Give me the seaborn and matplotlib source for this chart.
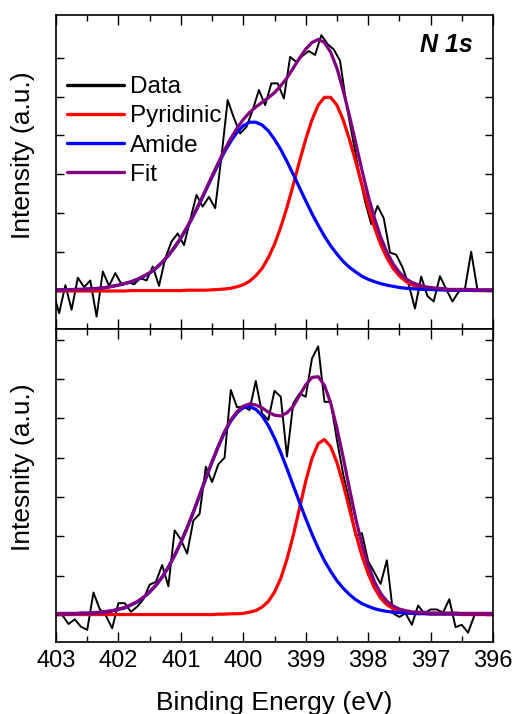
import matplotlib
matplotlib.use("Agg")
import matplotlib.pyplot as plt
from matplotlib.lines import Line2D
from matplotlib.ticker import MultipleLocator, FixedLocator
import pandas as pd
import seaborn as sns

# ---------------- data ----------------
curve_energy = [403.0, 402.9, 402.8, 402.7, 402.6, 402.5, 402.4, 402.3, 402.2, 402.1,
                402.0, 401.9, 401.8, 401.7, 401.6, 401.5, 401.4, 401.3, 401.2, 401.1,
                401.0, 400.9, 400.8, 400.7, 400.6, 400.5, 400.4, 400.3, 400.2, 400.1,
                400.0, 399.9, 399.8, 399.7, 399.6, 399.5, 399.4, 399.3, 399.2, 399.1,
                399.0, 398.9, 398.8, 398.7, 398.6, 398.5, 398.4, 398.3, 398.2, 398.1,
                398.0, 397.9, 397.8, 397.7, 397.6, 397.5, 397.4, 397.3, 397.2, 397.1,
                397.0, 396.9, 396.8, 396.7, 396.6, 396.5, 396.4, 396.3, 396.2, 396.1,
                396.0]

# top panel (N 1s)
top_data_energy = [403.05, 402.95, 402.85, 402.75, 402.65, 402.55, 402.45, 402.35, 402.25, 402.15,
                   402.05, 401.95, 401.85, 401.75, 401.65, 401.55, 401.45, 401.35, 401.25, 401.15,
                   401.05, 400.95, 400.85, 400.75, 400.65, 400.55, 400.45, 400.35, 400.25, 400.15,
                   400.05, 399.95, 399.85, 399.75, 399.65, 399.55, 399.45, 399.35, 399.25, 399.15,
                   399.05, 398.95, 398.85, 398.75, 398.65, 398.55, 398.45, 398.35, 398.25, 398.15,
                   398.05, 397.95, 397.85, 397.75, 397.65, 397.55, 397.45, 397.35, 397.25, 397.15,
                   397.05, 396.95, 396.85, 396.75, 396.65, 396.55, 396.45, 396.35, 396.25]
top_data = [0.00, -0.57, 0.15, -0.48, 0.34, 0.10, 0.27, -0.66, 0.50, 0.13,
            0.46, 0.17, 0.23, 0.17, 0.33, 0.27, 0.63, 0.13, 0.84, 1.27,
            1.48, 1.18, 1.83, 2.47, 2.17, 2.42, 2.13, 3.45, 4.91, 4.45,
            4.05, 4.22, 4.65, 5.17, 4.78, 5.34, 5.34, 4.95, 6.02, 5.89,
            6.05, 6.17, 6.07, 6.58, 6.35, 6.21, 5.92, 4.82, 3.95, 3.08,
            2.30, 1.72, 2.19, 1.87, 0.99, 0.93, 0.61, 0.16, -0.45, 0.37,
            -0.13, -0.27, 0.38, 0.05, -0.27, -0.02, 0.05, 1.01, 0.04]
top_pyridinic = [0.00, 0.00, 0.00, 0.00, 0.00, 0.00, 0.00, 0.00, 0.00, 0.00,
                 0.00, 0.00, 0.01, 0.01, 0.01, 0.01, 0.01, 0.01, 0.01, 0.01,
                 0.01, 0.02, 0.02, 0.02, 0.02, 0.03, 0.04, 0.05, 0.07, 0.11,
                 0.16, 0.25, 0.39, 0.58, 0.85, 1.20, 1.64, 2.15, 2.73, 3.33,
                 3.90, 4.40, 4.78, 4.98, 4.98, 4.78, 4.40, 3.90, 3.33, 2.73,
                 2.15, 1.64, 1.20, 0.85, 0.58, 0.39, 0.25, 0.16, 0.11, 0.07,
                 0.05, 0.04, 0.03, 0.02, 0.02, 0.02, 0.02, 0.01, 0.01, 0.01,
                 0.01]
top_amide = [0.03, 0.03, 0.03, 0.04, 0.04, 0.05, 0.06, 0.07, 0.09, 0.12,
             0.15, 0.19, 0.23, 0.29, 0.37, 0.46, 0.58, 0.73, 0.91, 1.12,
             1.36, 1.63, 1.93, 2.25, 2.59, 2.93, 3.26, 3.58, 3.85, 4.08,
             4.25, 4.34, 4.34, 4.27, 4.12, 3.90, 3.64, 3.33, 3.00, 2.66,
             2.32, 1.99, 1.69, 1.41, 1.16, 0.95, 0.76, 0.61, 0.49, 0.38,
             0.30, 0.24, 0.19, 0.15, 0.12, 0.09, 0.07, 0.06, 0.05, 0.04,
             0.04, 0.03, 0.03, 0.02, 0.02, 0.02, 0.02, 0.02, 0.02, 0.02,
             0.02]
top_fit = [0.03, 0.03, 0.03, 0.04, 0.04, 0.05, 0.06, 0.07, 0.09, 0.12,
           0.15, 0.19, 0.24, 0.30, 0.38, 0.47, 0.59, 0.74, 0.92, 1.13,
           1.37, 1.65, 1.95, 2.27, 2.61, 2.96, 3.30, 3.63, 3.92, 4.19,
           4.41, 4.59, 4.73, 4.85, 4.97, 5.10, 5.28, 5.48, 5.73, 5.99,
           6.22, 6.39, 6.47, 6.39, 6.14, 5.73, 5.16, 4.51, 3.82, 3.11,
           2.45, 1.88, 1.39, 1.00, 0.70, 0.48, 0.32, 0.22, 0.16, 0.11,
           0.09, 0.07, 0.06, 0.04, 0.04, 0.04, 0.04, 0.03, 0.03, 0.03,
           0.03]

# bottom panel
bot_data_energy = [402.9, 402.8, 402.7, 402.6, 402.5, 402.4, 402.3, 402.2, 402.1, 402.0,
                   401.9, 401.8, 401.7, 401.6, 401.5, 401.4, 401.3, 401.2, 401.1, 401.0,
                   400.9, 400.8, 400.7, 400.6, 400.5, 400.4, 400.3, 400.2, 400.1, 400.0,
                   399.9, 399.8, 399.7, 399.6, 399.5, 399.4, 399.3, 399.2, 399.1, 399.0,
                   398.9, 398.8, 398.7, 398.6, 398.5, 398.4, 398.3, 398.2, 398.1, 398.0,
                   397.9, 397.8, 397.7, 397.6, 397.5, 397.4, 397.3, 397.2, 397.1, 397.0,
                   396.9, 396.8, 396.7, 396.6, 396.5, 396.4, 396.3]
bot_data = [0.00, -0.23, -0.11, -0.30, -0.38, 0.57, 0.15, -0.02, -0.34, 0.30,
            0.30, 0.08, 0.21, 0.40, 0.77, 0.84, 1.27, 0.73, 2.15, 1.92,
            1.56, 2.40, 2.57, 3.77, 3.38, 3.83, 4.00, 5.72, 5.28, 5.30,
            5.21, 5.95, 5.13, 4.96, 5.70, 5.55, 4.03, 5.38, 5.63, 5.55,
            6.52, 6.83, 5.42, 5.42, 4.45, 3.58, 2.90, 2.01, 2.08, 1.37,
            1.08, 0.79, 1.39, 0.04, -0.05, 0.04, -0.25, 0.24, 0.04, 0.14,
            0.14, 0.06, 0.40, -0.31, -0.25, -0.45, -0.02]
bot_pyridinic = [0.01, 0.01, 0.01, 0.01, 0.01, 0.01, 0.01, 0.01, 0.01, 0.01,
                 0.01, 0.01, 0.01, 0.01, 0.01, 0.01, 0.01, 0.01, 0.01, 0.01,
                 0.01, 0.01, 0.01, 0.01, 0.01, 0.01, 0.02, 0.02, 0.03, 0.03,
                 0.04, 0.07, 0.11, 0.20, 0.34, 0.58, 0.93, 1.42, 2.02, 2.71,
                 3.40, 3.98, 4.36, 4.46, 4.28, 3.88, 3.33, 2.70, 2.07, 1.51,
                 1.05, 0.69, 0.43, 0.26, 0.16, 0.09, 0.06, 0.04, 0.03, 0.03,
                 0.02, 0.02, 0.02, 0.02, 0.02, 0.01, 0.01, 0.01, 0.01, 0.01,
                 0.01]
bot_amide = [0.03, 0.03, 0.03, 0.03, 0.04, 0.04, 0.05, 0.06, 0.08, 0.10,
             0.14, 0.18, 0.25, 0.33, 0.44, 0.58, 0.75, 0.96, 1.21, 1.51,
             1.84, 2.21, 2.61, 3.04, 3.47, 3.89, 4.28, 4.64, 4.93, 5.14,
             5.27, 5.30, 5.23, 5.07, 4.82, 4.50, 4.13, 3.72, 3.29, 2.87,
             2.45, 2.06, 1.70, 1.38, 1.11, 0.87, 0.68, 0.52, 0.39, 0.29,
             0.22, 0.16, 0.12, 0.09, 0.07, 0.06, 0.05, 0.04, 0.04, 0.04,
             0.03, 0.03, 0.03, 0.03, 0.03, 0.03, 0.03, 0.03, 0.03, 0.03,
             0.03]
bot_fit = [0.04, 0.04, 0.04, 0.04, 0.05, 0.05, 0.06, 0.07, 0.09, 0.11,
           0.15, 0.19, 0.26, 0.34, 0.45, 0.59, 0.76, 0.97, 1.22, 1.52,
           1.85, 2.22, 2.62, 3.05, 3.48, 3.90, 4.30, 4.66, 4.96, 5.17,
           5.31, 5.37, 5.34, 5.27, 5.16, 5.08, 5.06, 5.14, 5.31, 5.58,
           5.85, 6.04, 6.06, 5.84, 5.39, 4.75, 4.01, 3.22, 2.46, 1.80,
           1.27, 0.85, 0.55, 0.35, 0.23, 0.15, 0.11, 0.08, 0.07, 0.07,
           0.05, 0.05, 0.05, 0.05, 0.05, 0.04, 0.04, 0.04, 0.04, 0.04,
           0.04]

series_names = ["Data", "Pyridinic", "Amide", "Fit"]
series_colors = {"Data": "#000000", "Pyridinic": "#FF0000", "Amide": "#0000FF", "Fit": "#800080"}
x_major_ticks = [403, 402, 401, 400, 399, 398, 397, 396]
top_ylabel = "Intensity (a.u.)"
bot_ylabel = "Intesnity (a.u.)"
x_label = "Binding Energy (eV)"
panel_tag = "N 1s"

# ---------------- styling ----------------
sns.set_style("ticks")
plt.rcParams["font.family"] = ["Liberation Sans", "DejaVu Sans"]
plt.rcParams["text.color"] = "black"
plt.rcParams["axes.labelcolor"] = "black"
plt.rcParams["xtick.color"] = "black"
plt.rcParams["ytick.color"] = "black"
plt.rcParams["axes.edgecolor"] = "black"

W, H = 514, 714
fig = plt.figure(figsize=(W / 100, H / 100), dpi=100)
fig.patch.set_facecolor("white")

left = 56 / W
width = (493 - 56) / W
ax1 = fig.add_axes([left, 1 - 328.7 / H, width, (328.7 - 15.3) / H])
ax2 = fig.add_axes([left, 1 - 641.7 / H, width, (641.7 - 328.7) / H])


def draw_panel(ax, d_e, d_y, pyr, ami, fit):
    frames = {
        "Data": pd.DataFrame({"energy": d_e, "intensity": d_y}),
        "Pyridinic": pd.DataFrame({"energy": curve_energy, "intensity": pyr}),
        "Amide": pd.DataFrame({"energy": curve_energy, "intensity": ami}),
        "Fit": pd.DataFrame({"energy": curve_energy, "intensity": fit}),
    }
    widths = {"Data": 1.4, "Pyridinic": 2.3, "Amide": 2.3, "Fit": 2.3}
    for name in series_names:
        sns.lineplot(data=frames[name], x="energy", y="intensity", ax=ax,
                     color=series_colors[name], linewidth=widths[name],
                     sort=False, estimator=None, legend=False)
    ax.set_xlim(403, 396)
    ax.xaxis.set_major_locator(FixedLocator(x_major_ticks))
    ax.xaxis.set_minor_locator(MultipleLocator(0.5))
    ax.tick_params(which="both", direction="in", top=True, right=True,
                   width=1.0, color="black", labelcolor="black")
    ax.tick_params(which="major", length=7)
    ax.tick_params(which="minor", length=4)
    ax.tick_params(axis="y", which="major", length=6, labelleft=False)
    ax.set_ylabel("")
    ax.set_xlabel("")
    for sp in ax.spines.values():
        sp.set_linewidth(1.2)
        sp.set_color("black")


draw_panel(ax1, top_data_energy, top_data, top_pyridinic, top_amide, top_fit)
draw_panel(ax2, bot_data_energy, bot_data, bot_pyridinic, bot_amide, bot_fit)

ax1.set_ylim(-0.97, 7.09)
ax1.yaxis.set_major_locator(FixedLocator([0, 1, 2, 3, 4, 5, 6]))
ax2.set_ylim(-0.68, 7.28)
ax2.yaxis.set_major_locator(FixedLocator([0, 1, 2, 3, 4, 5, 6, 7]))

ax1.tick_params(axis="x", labelbottom=False)
ax2.tick_params(axis="x", labelsize=17, pad=6)
ax2.set_xticklabels([str(t) for t in x_major_ticks])

ax1.set_ylabel(top_ylabel, fontsize=19, color="black")
ax1.yaxis.set_label_coords(-0.047, 0.554)
ax2.set_ylabel(bot_ylabel, fontsize=19, color="black")
ax2.yaxis.set_label_coords(-0.047, 0.557)
ax2.set_xlabel(x_label, fontsize=19, color="black")
ax2.xaxis.set_label_coords(0.5, -0.158)

ax1.text(0.954, 0.904, panel_tag, transform=ax1.transAxes, ha="right", va="center",
         fontsize=18, fontweight="bold", fontstyle="italic", color="black")

handles = [Line2D([], [], color=series_colors[n], linewidth=2.4) for n in series_names]
leg = ax1.legend(handles, series_names, loc="upper left", bbox_to_anchor=(0.025, 0.805),
                 frameon=False, fontsize=17.5, handlelength=2.33, handletextpad=0.25,
                 labelspacing=0.29, borderpad=0, borderaxespad=0)
for t in leg.get_texts():
    t.set_color("black")

fig.savefig("out.png", dpi=100, facecolor="white")
